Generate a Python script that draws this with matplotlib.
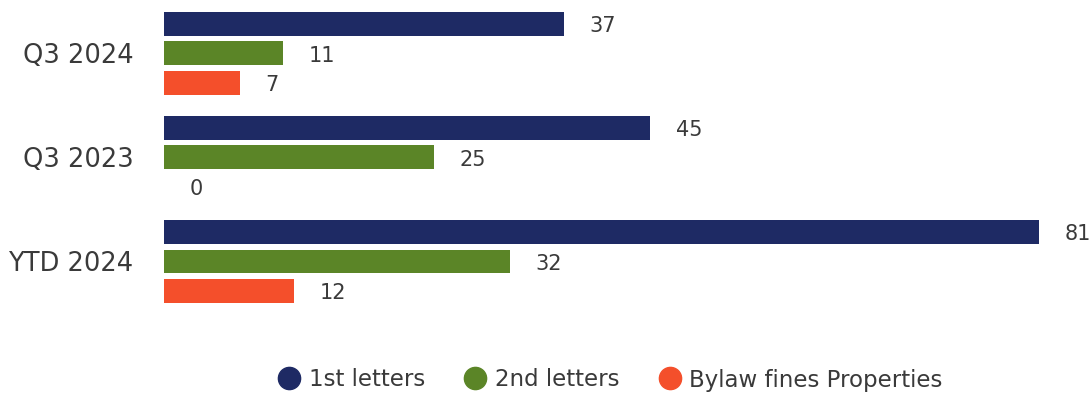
import numpy as np
import matplotlib.pyplot as plt
from matplotlib.lines import Line2D

# data
categories = ["Q3 2024", "Q3 2023", "YTD 2024"]
series_names = ["1st letters", "2nd letters", "Bylaw fines Properties"]
first_letters = [37, 45, 81]
second_letters = [11, 25, 32]
bylaw_fines = [7, 0, 12]

colors = ["#1E2A64", "#5B8527", "#F44F2B"]
txt = "#3A3A3A"

plt.rcParams['font.family'] = ['DejaVu Sans']

fig = plt.figure(figsize=(10.89, 3.94), dpi=100)
ax = fig.add_axes([164/1089, (394-330)/394, 1-164/1089, 330/394])

y = np.arange(len(categories))
h = 0.23
offsets = [-0.28, 0, 0.28]
for vals, off, c in zip([first_letters, second_letters, bylaw_fines], offsets, colors):
    ax.barh(y + off, vals, height=h, color=c)
    for yi, v in zip(y, vals):
        ax.text(v + 2.4, yi + off + 0.02, str(v), va='center', ha='left', fontsize=15, color=txt)

ax.set_xlim(0, 925/10.8)
ax.set_ylim(2.659, -0.514)
ax.set_yticks(y)
ax.set_yticklabels(categories, fontsize=18.5, color=txt)
ax.tick_params(axis='y', length=0, pad=22)
ax.set_xticks([])
for s in ax.spines.values():
    s.set_visible(False)

handles = [Line2D([], [], marker='o', linestyle='', markersize=16, color=c) for c in colors]
fig.legend(handles, series_names, loc='center', bbox_to_anchor=(610/1089, 1-380/394),
           ncol=3, frameon=False, fontsize=16.5, labelcolor=txt,
           handlelength=1.0, handletextpad=0.35, columnspacing=1.7)

plt.savefig("out.png", dpi=100)
